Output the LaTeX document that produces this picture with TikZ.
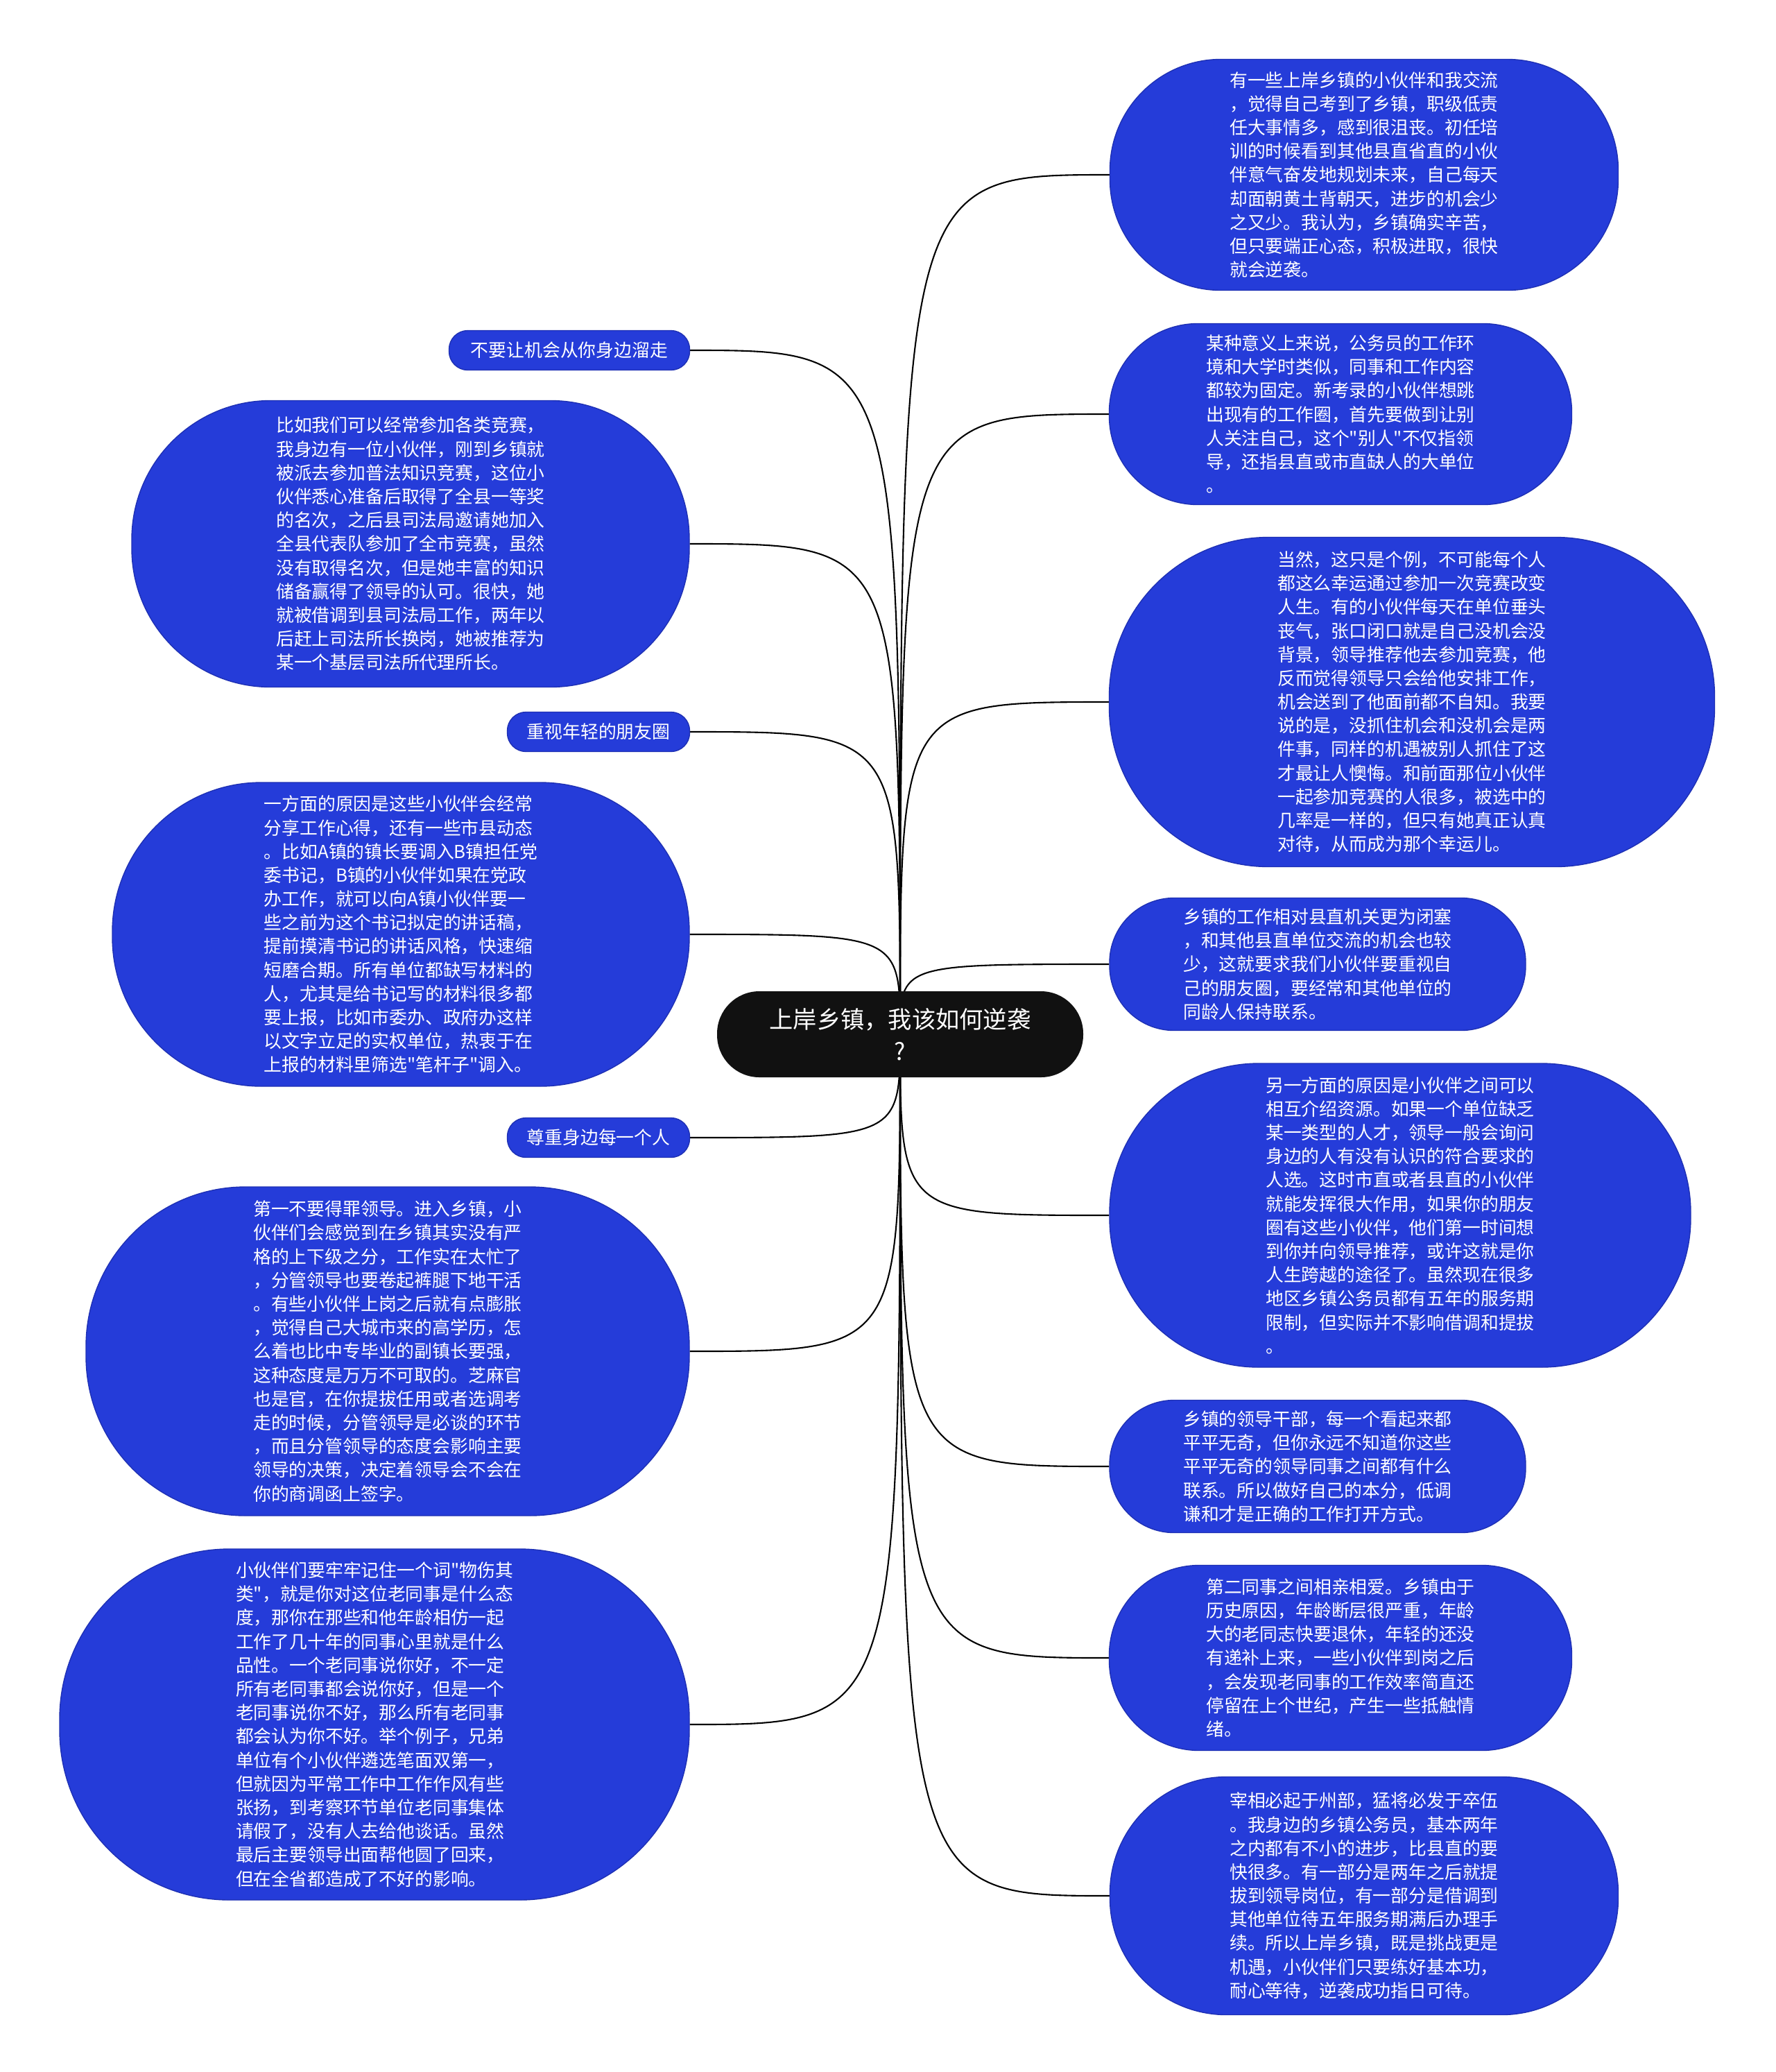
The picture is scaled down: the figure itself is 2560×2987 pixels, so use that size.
\documentclass[tikz,border=0pt]{standalone}
\usepackage{fontspec}
\setmainfont{Noto Sans CJK SC}[Ligatures=TeXOff]
\usetikzlibrary{calc,positioning,backgrounds}
\definecolor{leafblue}{RGB}{37,60,217}
\definecolor{leafedge}{RGB}{30,48,180}
\definecolor{rootblack}{RGB}{17,17,17}
\tikzset{
  root/.style={fill=rootblack, text=white, inner sep=0pt, align=center,
    font=\fontsize{9.75pt}{13pt}\selectfont},
  leaf/.style={fill=leafblue, draw=leafedge, line width=0.4pt, text=white, inner sep=0pt,
    align=left, font=\fontsize{7.35pt}{9.73pt}\selectfont},
  link/.style={line width=0.6pt, draw=black}
}
\begin{document}
\begin{tikzpicture}[x=0.1mm,y=-0.1mm]
  \useasboundingbox (0,0) rectangle (2560,2987);
  % centre
  \node[root, minimum width=52.8mm, minimum height=12.4mm, rounded corners=6.1mm]
    (root) at (1298,1491) {上岸乡镇，我该如何逆袭\\?};
  % right side
  \node[leaf, minimum width=73.3mm, minimum height=33.3mm, rounded corners=16mm] (rt1) at (1967,252)
    {有一些上岸乡镇的小伙伴和我交流\\，觉得自己考到了乡镇，职级低责\\任大事情多，感到很沮丧。初任培\\训的时候看到其他县直省直的小伙\\伴意气奋发地规划未来，自己每天\\却面朝黄土背朝天，进步的机会少\\之又少。我认为，乡镇确实辛苦，\\但只要端正心态，积极进取，很快\\就会逆袭。};
  \node[leaf, minimum width=66.7mm, minimum height=26.1mm, rounded corners=12.8mm] (rt2) at (1933,597)
    {某种意义上来说，公务员的工作环\\境和大学时类似，同事和工作内容\\都较为固定。新考录的小伙伴想跳\\出现有的工作圈，首先要做到让别\\人关注自己，这个"别人"不仅指领\\导，还指县直或市直缺人的大单位\\。};
  \node[leaf, minimum width=87.3mm, minimum height=47.5mm, rounded corners=23mm] (rt3) at (2036,1012)
    {当然，这只是个例，不可能每个人\\都这么幸运通过参加一次竞赛改变\\人生。有的小伙伴每天在单位垂头\\丧气，张口闭口就是自己没机会没\\背景，领导推荐他去参加竞赛，他\\反而觉得领导只会给他安排工作，\\机会送到了他面前都不自知。我要\\说的是，没抓住机会和没机会是两\\件事，同样的机遇被别人抓住了这\\才最让人懊悔。和前面那位小伙伴\\一起参加竞赛的人很多，被选中的\\几率是一样的，但只有她真正认真\\对待，从而成为那个幸运儿。};
  \node[leaf, minimum width=60mm, minimum height=19.1mm, rounded corners=9.3mm] (rt4) at (1900,1390)
    {乡镇的工作相对县直机关更为闭塞\\，和其他县直单位交流的机会也较\\少，这就要求我们小伙伴要重视自\\己的朋友圈，要经常和其他单位的\\同龄人保持联系。};
  \node[leaf, minimum width=83.8mm, minimum height=43.8mm, rounded corners=21.5mm] (rt5) at (2019,1752)
    {另一方面的原因是小伙伴之间可以\\相互介绍资源。如果一个单位缺乏\\某一类型的人才，领导一般会询问\\身边的人有没有认识的符合要求的\\人选。这时市直或者县直的小伙伴\\就能发挥很大作用，如果你的朋友\\圈有这些小伙伴，他们第一时间想\\到你并向领导推荐，或许这就是你\\人生跨越的途径了。虽然现在很多\\地区乡镇公务员都有五年的服务期\\限制，但实际并不影响借调和提拔\\。};
  \node[leaf, minimum width=60mm, minimum height=19.1mm, rounded corners=9.3mm] (rt6) at (1900,2114)
    {乡镇的领导干部，每一个看起来都\\平平无奇，但你永远不知道你这些\\平平无奇的领导同事之间都有什么\\联系。所以做好自己的本分，低调\\谦和才是正确的工作打开方式。};
  \node[leaf, minimum width=66.7mm, minimum height=26.7mm, rounded corners=13mm] (rt7) at (1933,2390)
    {第二同事之间相亲相爱。乡镇由于\\历史原因，年龄断层很严重，年龄\\大的老同志快要退休，年轻的还没\\有递补上来，一些小伙伴到岗之后\\，会发现老同事的工作效率简直还\\停留在上个世纪，产生一些抵触情\\绪。};
  \node[leaf, minimum width=73.3mm, minimum height=34.3mm, rounded corners=16.8mm] (rt8) at (1967,2733)
    {宰相必起于州部，猛将必发于卒伍\\。我身边的乡镇公务员，基本两年\\之内都有不小的进步，比县直的要\\快很多。有一部分是两年之后就提\\拔到领导岗位，有一部分是借调到\\其他单位待五年服务期满后办理手\\续。所以上岸乡镇，既是挑战更是\\机遇，小伙伴们只要练好基本功，\\耐心等待，逆袭成功指日可待。};
  % left side
  \node[leaf, minimum width=34.7mm, minimum height=5.7mm, rounded corners=2.7mm] (lt1) at (821,505)
    {不要让机会从你身边溜走};
  \node[leaf, minimum width=80.4mm, minimum height=41.3mm, rounded corners=20mm] (lt2) at (592,784)
    {比如我们可以经常参加各类竞赛，\\我身边有一位小伙伴，刚到乡镇就\\被派去参加普法知识竞赛，这位小\\伙伴悉心准备后取得了全县一等奖\\的名次，之后县司法局邀请她加入\\全县代表队参加了全市竞赛，虽然\\没有取得名次，但是她丰富的知识\\储备赢得了领导的认可。很快，她\\就被借调到县司法局工作，两年以\\后赶上司法所长换岗，她被推荐为\\某一个基层司法所代理所长。};
  \node[leaf, minimum width=26.3mm, minimum height=5.7mm, rounded corners=2.7mm] (lt3) at (863,1055)
    {重视年轻的朋友圈};
  \node[leaf, minimum width=83.2mm, minimum height=43.8mm, rounded corners=21.5mm] (lt4) at (578,1347)
    {一方面的原因是这些小伙伴会经常\\分享工作心得，还有一些市县动态\\。比如A镇的镇长要调入B镇担任党\\委书记，B镇的小伙伴如果在党政\\办工作，就可以向A镇小伙伴要一\\些之前为这个书记拟定的讲话稿，\\提前摸清书记的讲话风格，快速缩\\短磨合期。所有单位都缺写材料的\\人，尤其是给书记写的材料很多都\\要上报，比如市委办、政府办这样\\以文字立足的实权单位，热衷于在\\上报的材料里筛选"笔杆子"调入。};
  \node[leaf, minimum width=26.3mm, minimum height=5.7mm, rounded corners=2.7mm] (lt5) at (863,1640)
    {尊重身边每一个人};
  \node[leaf, minimum width=87mm, minimum height=47.4mm, rounded corners=23mm] (lt6) at (559,1948)
    {第一不要得罪领导。进入乡镇，小\\伙伴们会感觉到在乡镇其实没有严\\格的上下级之分，工作实在太忙了\\，分管领导也要卷起裤腿下地干活\\。有些小伙伴上岗之后就有点膨胀\\，觉得自己大城市来的高学历，怎\\么着也比中专毕业的副镇长要强，\\这种态度是万万不可取的。芝麻官\\也是官，在你提拔任用或者选调考\\走的时候，分管领导是必谈的环节\\，而且分管领导的态度会影响主要\\领导的决策，决定着领导会不会在\\你的商调函上签字。};
  \node[leaf, minimum width=90.8mm, minimum height=50.6mm, rounded corners=24.5mm] (lt7) at (540,2486)
    {小伙伴们要牢牢记住一个词"物伤其\\类"，就是你对这位老同事是什么态\\度，那你在那些和他年龄相仿一起\\工作了几十年的同事心里就是什么\\品性。一个老同事说你好，不一定\\所有老同事都会说你好，但是一个\\老同事说你不好，那么所有老同事\\都会认为你不好。举个例子，兄弟\\单位有个小伙伴遴选笔面双第一，\\但就因为平常工作中工作作风有些\\张扬，到考察环节单位老同事集体\\请假了，没有人去给他谈话。虽然\\最后主要领导出面帮他圆了回来，\\但在全省都造成了不好的影响。};
  % connectors
  \begin{scope}[on background layer]
    \foreach \n in {rt1,rt2,rt3,rt4,rt5,rt6,rt7,rt8}
      \draw[link] (root.center) .. controls (root.center |- \n.west) .. (\n.west);
    \foreach \n in {lt1,lt2,lt3,lt4,lt5,lt6,lt7}
      \draw[link] (root.center) .. controls (root.center |- \n.east) .. (\n.east);
  \end{scope}
\end{tikzpicture}
\end{document}
